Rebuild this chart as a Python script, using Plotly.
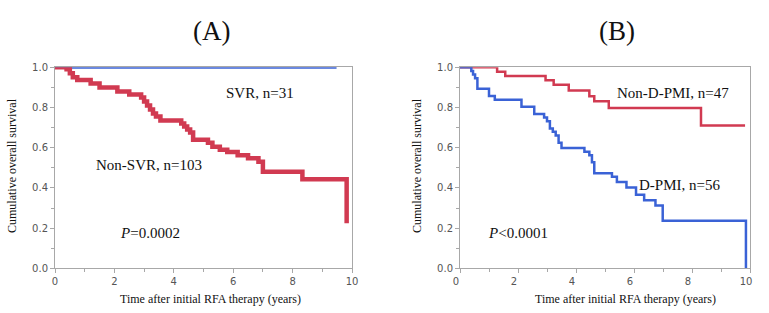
import plotly.graph_objects as go

# ---------------- data ----------------
# Panel A: Non-SVR (n=103) Kaplan-Meier steps
nonsvr_t = [0, 0.39, 0.5, 0.6, 0.75, 1.2, 1.5, 2.1, 2.5, 2.9, 3.0, 3.1, 3.2, 3.3, 3.4, 3.55,
            4.25, 4.35, 4.45, 4.55, 4.65, 5.15, 5.3, 5.55, 5.8, 6.15, 6.5, 6.85, 7.0, 8.33, 9.82]
nonsvr_s = [1.0, 0.99, 0.97, 0.95, 0.937, 0.92, 0.9, 0.88, 0.865, 0.85, 0.83, 0.81, 0.79, 0.77, 0.755, 0.735,
            0.72, 0.705, 0.69, 0.675, 0.64, 0.625, 0.605, 0.59, 0.578, 0.563, 0.547, 0.53, 0.48, 0.443, 0.224]
# Panel A: SVR (n=31)
svr_t = [0, 9.48]
svr_s = [1.0, 1.0]

# Panel B: Non-D-PMI (n=47)
nondpmi_t = [0, 1.28, 1.56, 2.95, 3.23, 3.75, 4.46, 4.63, 5.13, 8.31, 9.83]
nondpmi_s = [1.0, 0.978, 0.957, 0.935, 0.913, 0.885, 0.856, 0.831, 0.798, 0.71, 0.71]
# Panel B: D-PMI (n=56)
dpmi_t = [0, 0.39, 0.45, 0.52, 0.6, 1.0, 1.2, 2.12, 2.56, 2.9, 3.0, 3.1, 3.2, 3.3, 3.4, 3.5,
          4.29, 4.46, 4.55, 4.63, 5.24, 5.41, 5.74, 6.07, 6.35, 6.74, 6.99, 9.86]
dpmi_s = [1.0, 0.982, 0.964, 0.946, 0.893, 0.857, 0.839, 0.804, 0.768, 0.75, 0.732, 0.696, 0.679, 0.661, 0.625, 0.598,
          0.58, 0.562, 0.527, 0.473, 0.455, 0.429, 0.402, 0.366, 0.339, 0.313, 0.237, 0.0]

x_ticks = [0, 2, 4, 6, 8, 10]
y_ticks = [0.0, 0.2, 0.4, 0.6, 0.8, 1.0]

RED = "#d13a51"
BLUE = "#3a62d6"
W, H = 769, 313

def px(x):
    return x / W

def py(y):
    return 1 - y / H

fig = go.Figure()
fig.add_trace(go.Scatter(x=svr_t, y=svr_s, mode="lines", line=dict(color=BLUE, width=3, shape="hv"),
                         xaxis="x", yaxis="y", cliponaxis=False))
fig.add_trace(go.Scatter(x=nonsvr_t, y=nonsvr_s, mode="lines", line=dict(color=RED, width=4.5, shape="hv"),
                         xaxis="x", yaxis="y", cliponaxis=False))
fig.add_trace(go.Scatter(x=nondpmi_t, y=nondpmi_s, mode="lines", line=dict(color=RED, width=2.5, shape="hv"),
                         xaxis="x2", yaxis="y2", cliponaxis=False))
fig.add_trace(go.Scatter(x=dpmi_t, y=dpmi_s, mode="lines", line=dict(color=BLUE, width=2.5, shape="hv"),
                         xaxis="x2", yaxis="y2", cliponaxis=False))

ydom = [py(268.3), py(67.3)]
axcommon = dict(showline=True, linecolor="#a8a8a8", linewidth=1, mirror=True, showgrid=False, zeroline=False,
                ticks="outside", ticklen=4, tickcolor="#a8a8a8", automargin=False,
                tickfont=dict(family="DejaVu Sans", size=10, color="#555555"))
xax = dict(axcommon, range=[0, 10], tickvals=x_ticks, ticktext=[str(v) for v in x_ticks],
           ticklabeloverflow="allow",
           minor=dict(dtick=1, ticks="outside", ticklen=3, tickcolor="#a8a8a8"))
yax = dict(axcommon, range=[0, 1], tickvals=y_ticks, ticktext=[f"{v:.1f}" for v in y_ticks],
           minor=dict(dtick=0.1, ticks="outside", ticklen=3, tickcolor="#a8a8a8"))

fig.update_layout(
    width=W, height=H, margin=dict(l=0, r=0, t=0, b=0),
    paper_bgcolor="white", plot_bgcolor="white", showlegend=False,
    xaxis=dict(xax, domain=[px(55), px(352)], anchor="y"),
    yaxis=dict(yax, domain=ydom, anchor="x"),
    xaxis2=dict(xax, domain=[px(460), px(750)], anchor="y2", ticklabelshift=-4),
    yaxis2=dict(yax, domain=ydom, anchor="x2"),
)

serif = "Liberation Serif"
ann = []
def txt(text, x, y, size, xref="paper", yref="paper", textangle=0, **kw):
    ann.append(dict(text=text, x=x, y=y, xref=xref, yref=yref, showarrow=False, textangle=textangle,
                    font=dict(family=serif, size=size, color="#111111"), xanchor="center", yanchor="middle", **kw))

txt("(A)", px(211), py(31), 27)
txt("(B)", px(617), py(31), 27)
txt("Cumulative overall survival", px(12), py(166), 12, textangle=-90)
txt("Cumulative overall survival", px(417), py(166), 12, textangle=-90)
txt("Time after initial RFA therapy (years)", px(210), py(299), 12)
txt("Time after initial RFA therapy (years)", px(625), py(299), 12)

txt("SVR, n=31", 6.9, 0.87, 15, xref="x", yref="y")
txt("Non-SVR, n=103", 3.16, 0.514, 15, xref="x", yref="y")
txt("<i>P</i>=0.0002", 3.2, 0.176, 15, xref="x", yref="y")
txt("Non-D-PMI, n=47", 7.36, 0.874, 15, xref="x2", yref="y2")
txt("D-PMI, n=56", 7.56, 0.416, 15, xref="x2", yref="y2")
txt("<i>P</i>&lt;0.0001", 2.0, 0.178, 15, xref="x2", yref="y2")

fig.update_layout(annotations=ann)
fig.write_html("out.html", config={"displayModeBar": False},
               post_script="document.body.style.margin='0px';document.body.style.overflow='hidden';")
